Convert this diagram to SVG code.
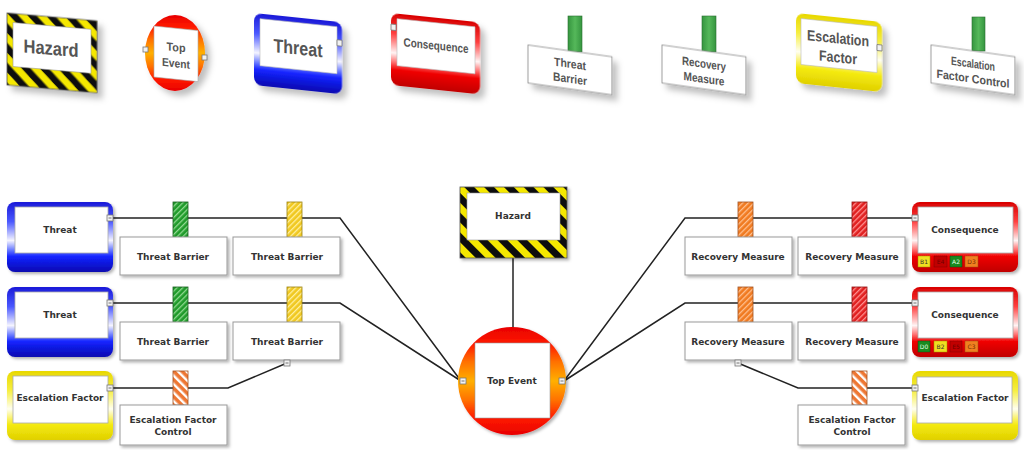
<svg xmlns="http://www.w3.org/2000/svg" width="1024" height="450" viewBox="0 0 1024 450">
<defs>
  <style>
    .lbl{font-family:"DejaVu Sans",Verdana,sans-serif;font-weight:bold;font-size:9px;fill:#333;text-anchor:middle}
    .lg{font-family:"Liberation Sans",Arial,sans-serif;font-weight:bold;fill:#555;text-anchor:middle}
    .bdg{font-family:"DejaVu Sans",sans-serif;font-size:6px;text-anchor:middle}
    .card{fill:#fff;stroke:#999;stroke-width:1}
    .inner{fill:#fff;stroke:#aaa;stroke-width:0.8}
    .conn{fill:none;stroke:#222;stroke-width:1.5}
    .sq{fill:#f2f2f2;stroke:#777;stroke-width:0.8}
    .sqm{stroke:#555;stroke-width:0.8}
  </style>
  <filter id="sh" x="-20%" y="-20%" width="150%" height="150%">
    <feDropShadow dx="2" dy="2" stdDeviation="1.5" flood-color="#000" flood-opacity="0.3"/>
  </filter>
  <filter id="sh2" x="-20%" y="-20%" width="160%" height="160%">
    <feDropShadow dx="5" dy="5" stdDeviation="3" flood-color="#000" flood-opacity="0.25"/>
  </filter>
  <pattern id="haz" width="14" height="14" patternUnits="userSpaceOnUse" patternTransform="rotate(-45)">
    <rect width="14" height="14" fill="#f5e800"/>
    <rect width="7" height="14" fill="#111"/>
  </pattern>
  <pattern id="hG" width="4" height="4" patternUnits="userSpaceOnUse" patternTransform="rotate(45)">
    <rect width="4" height="4" fill="#1f9a2a"/>
    <rect width="1.3" height="4" fill="#8fd890"/>
  </pattern>
  <pattern id="hY" width="4" height="4" patternUnits="userSpaceOnUse" patternTransform="rotate(45)">
    <rect width="4" height="4" fill="#f0c820"/>
    <rect width="1.3" height="4" fill="#fff0a0"/>
  </pattern>
  <pattern id="hO" width="4" height="4" patternUnits="userSpaceOnUse" patternTransform="rotate(45)">
    <rect width="4" height="4" fill="#f07a20"/>
    <rect width="1.3" height="4" fill="#ffc090"/>
  </pattern>
  <pattern id="hR" width="4" height="4" patternUnits="userSpaceOnUse" patternTransform="rotate(45)">
    <rect width="4" height="4" fill="#e02020"/>
    <rect width="1.3" height="4" fill="#ff9090"/>
  </pattern>
  <pattern id="hE" width="6" height="6" patternUnits="userSpaceOnUse" patternTransform="rotate(-45)">
    <rect width="6" height="6" fill="#ee7733"/>
    <rect width="2.4" height="6" fill="#fff"/>
  </pattern>
  <linearGradient id="lgGreen" x1="0" y1="0" x2="1" y2="0">
    <stop offset="0" stop-color="#35953f"/><stop offset="0.5" stop-color="#55b85a"/><stop offset="1" stop-color="#35953f"/>
  </linearGradient>
  <linearGradient id="gBlue" x1="0" y1="0" x2="0" y2="1">
    <stop offset="0" stop-color="#1a1ad8"/><stop offset="0.28" stop-color="#4a58ff"/><stop offset="0.55" stop-color="#f4f4ff"/><stop offset="0.68" stop-color="#7080ff"/><stop offset="0.78" stop-color="#1424ff"/><stop offset="1" stop-color="#0808b0"/>
  </linearGradient>
  <linearGradient id="gRed" x1="0" y1="0" x2="0" y2="1">
    <stop offset="0" stop-color="#d80000"/><stop offset="0.28" stop-color="#ff4040"/><stop offset="0.55" stop-color="#fff4f4"/><stop offset="0.68" stop-color="#ff7070"/><stop offset="0.78" stop-color="#f00000"/><stop offset="1" stop-color="#c00000"/>
  </linearGradient>
  <linearGradient id="gYel" x1="0" y1="0" x2="0" y2="1">
    <stop offset="0" stop-color="#e8d800"/><stop offset="0.28" stop-color="#f6ee40"/><stop offset="0.55" stop-color="#fffff0"/><stop offset="0.68" stop-color="#faf270"/><stop offset="0.78" stop-color="#f4ea10"/><stop offset="1" stop-color="#e0d000"/>
  </linearGradient>
  <linearGradient id="gTop" x1="0" y1="0" x2="0" y2="1">
    <stop offset="0" stop-color="#e80000"/><stop offset="0.16" stop-color="#ff1a00"/><stop offset="0.32" stop-color="#ff7000"/><stop offset="0.5" stop-color="#ffb000"/><stop offset="0.68" stop-color="#ff7000"/><stop offset="0.84" stop-color="#ff1a00"/><stop offset="1" stop-color="#e80000"/>
  </linearGradient>
</defs>
<rect width="1024" height="450" fill="#fff"/>

<!-- ===== Legend ===== -->
<g id="legend-hazard" transform="translate(7,13) skewY(5)">
  <rect width="90" height="72" fill="url(#haz)" stroke="#555" stroke-width="0.8" filter="url(#sh2)"/>
  <rect x="6" y="9" width="78" height="44" fill="#fff" stroke="#999" stroke-width="0.6"/>
  <text class="lg" x="44" y="38" font-size="19" textLength="55" lengthAdjust="spacingAndGlyphs">Hazard</text>
</g>
<g id="legend-top-event">
  <ellipse cx="175" cy="53" rx="30" ry="38" fill="url(#gTop)" filter="url(#sh2)"/>
  <g transform="translate(154,26) skewY(6)">
    <rect width="44" height="51" fill="#fff" stroke="#aaa" stroke-width="0.6"/>
    <text class="lg" x="22" y="23" font-size="11.5" textLength="19" lengthAdjust="spacingAndGlyphs">Top</text>
    <text class="lg" x="22" y="39" font-size="11.5" textLength="28" lengthAdjust="spacingAndGlyphs">Event</text>
  </g>
  <rect class="sq" x="143" y="47" width="5" height="5"/>
  <rect class="sq" x="202" y="55" width="5" height="5"/>
</g>
<g id="legend-threat" transform="translate(254,13) skewY(6)">
  <rect width="88" height="72" rx="8" fill="url(#gBlue)" filter="url(#sh2)"/>
  <rect x="6" y="5" width="77" height="47" fill="#fff" stroke="#bbb" stroke-width="0.6"/>
  <text class="lg" x="44" y="37" font-size="19" textLength="49" lengthAdjust="spacingAndGlyphs">Threat</text>
  <rect class="sq" x="83" y="18" width="5" height="6"/>
</g>
<g id="legend-consequence" transform="translate(391,13) skewY(6)">
  <rect width="89" height="72" rx="8" fill="url(#gRed)" filter="url(#sh2)"/>
  <rect x="6" y="5" width="78" height="47" fill="#fff" stroke="#bbb" stroke-width="0.6"/>
  <text class="lg" x="45" y="32" font-size="12" textLength="65" lengthAdjust="spacingAndGlyphs">Consequence</text>
  <rect class="sq" x="0" y="11" width="5" height="6"/>
</g>
<g id="legend-threat-barrier">
  <rect x="568" y="16" width="14" height="36" fill="url(#lgGreen)" stroke="#2a6e30" stroke-width="0.6"/>
  <g transform="translate(528,45) skewY(8)">
    <rect width="84" height="38" fill="#fff" stroke="#888" stroke-width="0.8" filter="url(#sh2)"/>
    <text class="lg" x="42" y="17" font-size="12" textLength="32" lengthAdjust="spacingAndGlyphs">Threat</text>
    <text class="lg" x="42" y="32" font-size="12" textLength="34" lengthAdjust="spacingAndGlyphs">Barrier</text>
  </g>
</g>
<g id="legend-recovery-measure">
  <rect x="702" y="16" width="14" height="36" fill="url(#lgGreen)" stroke="#2a6e30" stroke-width="0.6"/>
  <g transform="translate(662,45) skewY(8)">
    <rect width="84" height="38" fill="#fff" stroke="#888" stroke-width="0.8" filter="url(#sh2)"/>
    <text class="lg" x="42" y="17" font-size="12" textLength="44" lengthAdjust="spacingAndGlyphs">Recovery</text>
    <text class="lg" x="42" y="32" font-size="12" textLength="41" lengthAdjust="spacingAndGlyphs">Measure</text>
  </g>
</g>
<g id="legend-escalation-factor" transform="translate(796,13) skewY(6)">
  <rect width="86" height="70" rx="8" fill="url(#gYel)" filter="url(#sh2)"/>
  <rect x="5" y="5" width="76" height="46" fill="#fff" stroke="#bbb" stroke-width="0.6"/>
  <text class="lg" x="42" y="26" font-size="15" textLength="62" lengthAdjust="spacingAndGlyphs">Escalation</text>
  <text class="lg" x="42" y="45" font-size="15" textLength="38" lengthAdjust="spacingAndGlyphs">Factor</text>
  <rect class="sq" x="81" y="23" width="5" height="6"/>
</g>
<g id="legend-escalation-factor-control">
  <rect x="972" y="17" width="13" height="34" fill="url(#lgGreen)" stroke="#2a6e30" stroke-width="0.6"/>
  <g transform="translate(931,45) skewY(8)">
    <rect width="84" height="38" fill="#fff" stroke="#888" stroke-width="0.8" filter="url(#sh2)"/>
    <text class="lg" x="42" y="17" font-size="12" textLength="44" lengthAdjust="spacingAndGlyphs">Escalation</text>
    <text class="lg" x="42" y="32" font-size="12" textLength="73" lengthAdjust="spacingAndGlyphs">Factor Control</text>
  </g>
</g>

<!-- ===== Connectors ===== -->
<g id="connectors">
  <polyline class="conn" points="113,218 340,218 461,381"/>
  <polyline class="conn" points="113,303 340,303 461,381"/>
  <polyline class="conn" points="113,388 228,388 287,363"/>
  <line class="conn" x1="513" y1="258" x2="513" y2="328"/>
  <polyline class="conn" points="564,381 685,218 915,218"/>
  <polyline class="conn" points="564,381 685,303 915,303"/>
  <polyline class="conn" points="738,363 798,388 915,388"/>
</g>

<!-- ===== Left side ===== -->
<g id="threat-1">
  <rect x="7" y="202" width="106" height="70" rx="8" fill="url(#gBlue)" filter="url(#sh)"/>
  <rect class="inner" x="15" y="207" width="93" height="46"/>
  <text class="lbl" x="60" y="233">Threat</text>
  <rect class="sq" x="107" y="215" width="6" height="6"/><line class="sqm" x1="108.5" y1="218" x2="111.5" y2="218"/>
</g>
<g id="threat-barrier-1a">
  <rect x="173" y="202" width="15" height="36" fill="url(#hG)" stroke="#1a5e20" stroke-width="0.8"/>
  <rect class="card" x="120" y="237" width="107" height="38" filter="url(#sh)"/>
  <text class="lbl" x="173" y="260">Threat Barrier</text>
</g>
<g id="threat-barrier-1b">
  <rect x="287" y="202" width="15" height="36" fill="url(#hY)" stroke="#9a8010" stroke-width="0.8"/>
  <rect class="card" x="233" y="237" width="107" height="38" filter="url(#sh)"/>
  <text class="lbl" x="287" y="260">Threat Barrier</text>
</g>
<g id="threat-2">
  <rect x="7" y="287" width="106" height="70" rx="8" fill="url(#gBlue)" filter="url(#sh)"/>
  <rect class="inner" x="15" y="292" width="93" height="46"/>
  <text class="lbl" x="60" y="318">Threat</text>
  <rect class="sq" x="107" y="300" width="6" height="6"/><line class="sqm" x1="108.5" y1="303" x2="111.5" y2="303"/>
</g>
<g id="threat-barrier-2a">
  <rect x="173" y="287" width="15" height="36" fill="url(#hG)" stroke="#1a5e20" stroke-width="0.8"/>
  <rect class="card" x="120" y="322" width="107" height="38" filter="url(#sh)"/>
  <text class="lbl" x="173" y="345">Threat Barrier</text>
</g>
<g id="threat-barrier-2b">
  <rect x="287" y="287" width="15" height="36" fill="url(#hY)" stroke="#9a8010" stroke-width="0.8"/>
  <rect class="card" x="233" y="322" width="107" height="38" filter="url(#sh)"/>
  <text class="lbl" x="287" y="345">Threat Barrier</text>
  <rect class="sq" x="284" y="360" width="6" height="6"/><line class="sqm" x1="285.5" y1="363" x2="288.5" y2="363"/>
</g>
<g id="escalation-factor-left">
  <rect x="7" y="371" width="106" height="69" rx="8" fill="url(#gYel)" filter="url(#sh)"/>
  <rect class="inner" x="13" y="376" width="95" height="47"/>
  <text class="lbl" x="60" y="401">Escalation Factor</text>
  <rect class="sq" x="107" y="385" width="6" height="6"/><line class="sqm" x1="108.5" y1="388" x2="111.5" y2="388"/>
</g>
<g id="escalation-factor-control-left">
  <rect x="173" y="371" width="15" height="34" fill="url(#hE)" stroke="#a05020" stroke-width="0.8"/>
  <rect class="card" x="120" y="405" width="107" height="40" filter="url(#sh)"/>
  <text class="lbl" x="173" y="423">Escalation Factor</text>
  <text class="lbl" x="173" y="435">Control</text>
</g>

<!-- ===== Center ===== -->
<g id="hazard">
  <rect x="460" y="187" width="107" height="71" fill="url(#haz)" stroke="#555" stroke-width="0.8" filter="url(#sh)"/>
  <rect x="467" y="193" width="93" height="47" fill="#fff" stroke="#999" stroke-width="0.6"/>
  <text class="lbl" x="513" y="219">Hazard</text>
</g>
<g id="top-event">
  <circle cx="512" cy="381" r="54" fill="url(#gTop)" filter="url(#sh)"/>
  <rect x="475" y="343" width="75" height="75" fill="#fff" stroke="#999" stroke-width="0.6"/>
  <text class="lbl" x="512" y="384">Top Event</text>
  <rect class="sq" x="460" y="378" width="6" height="6"/><line class="sqm" x1="461.5" y1="381" x2="464.5" y2="381"/>
  <rect class="sq" x="559" y="378" width="6" height="6"/><line class="sqm" x1="560.5" y1="381" x2="563.5" y2="381"/>
</g>

<!-- ===== Right side ===== -->
<g id="recovery-measure-1a">
  <rect x="738" y="202" width="15" height="36" fill="url(#hO)" stroke="#a05020" stroke-width="0.8"/>
  <rect class="card" x="685" y="237" width="107" height="38" filter="url(#sh)"/>
  <text class="lbl" x="738" y="260">Recovery Measure</text>
</g>
<g id="recovery-measure-1b">
  <rect x="852" y="202" width="15" height="36" fill="url(#hR)" stroke="#901010" stroke-width="0.8"/>
  <rect class="card" x="798" y="237" width="107" height="38" filter="url(#sh)"/>
  <text class="lbl" x="852" y="260">Recovery Measure</text>
</g>
<g id="consequence-1">
  <rect x="912" y="202" width="106" height="70" rx="8" fill="url(#gRed)" filter="url(#sh)"/>
  <rect class="inner" x="918" y="207" width="95" height="46"/>
  <text class="lbl" x="965" y="233">Consequence</text>
  <rect class="sq" x="912" y="215" width="6" height="6"/><line class="sqm" x1="913.5" y1="218" x2="916.5" y2="218"/>
  <rect x="918" y="256" width="12" height="11" fill="#f0e020" stroke="#a09000" stroke-width="0.5"/><text class="bdg" x="924" y="264" fill="#333">B1</text>
  <rect x="934" y="256" width="13" height="11" fill="#c00000" stroke="#800000" stroke-width="0.5"/><text class="bdg" x="940.5" y="264" fill="#700000">E4</text>
  <rect x="950" y="256" width="12" height="11" fill="#1a8a20" stroke="#0a5010" stroke-width="0.5"/><text class="bdg" x="956" y="264" fill="#e0ffe0">A2</text>
  <rect x="965" y="256" width="13" height="11" fill="#f08020" stroke="#a05010" stroke-width="0.5"/><text class="bdg" x="971.5" y="264" fill="#7a3000">D3</text>
</g>
<g id="recovery-measure-2a">
  <rect x="738" y="287" width="15" height="36" fill="url(#hO)" stroke="#a05020" stroke-width="0.8"/>
  <rect class="card" x="685" y="322" width="107" height="38" filter="url(#sh)"/>
  <text class="lbl" x="738" y="345">Recovery Measure</text>
  <rect class="sq" x="735" y="360" width="6" height="6"/><line class="sqm" x1="736.5" y1="363" x2="739.5" y2="363"/>
</g>
<g id="recovery-measure-2b">
  <rect x="852" y="287" width="15" height="36" fill="url(#hR)" stroke="#901010" stroke-width="0.8"/>
  <rect class="card" x="798" y="322" width="107" height="38" filter="url(#sh)"/>
  <text class="lbl" x="852" y="345">Recovery Measure</text>
</g>
<g id="consequence-2">
  <rect x="912" y="287" width="106" height="70" rx="8" fill="url(#gRed)" filter="url(#sh)"/>
  <rect class="inner" x="918" y="292" width="95" height="46"/>
  <text class="lbl" x="965" y="318">Consequence</text>
  <rect class="sq" x="912" y="300" width="6" height="6"/><line class="sqm" x1="913.5" y1="303" x2="916.5" y2="303"/>
  <rect x="918" y="341" width="12" height="11" fill="#1a8a20" stroke="#0a5010" stroke-width="0.5"/><text class="bdg" x="924" y="349" fill="#e0ffe0">D0</text>
  <rect x="934" y="341" width="13" height="11" fill="#f0e020" stroke="#a09000" stroke-width="0.5"/><text class="bdg" x="940.5" y="349" fill="#333">B2</text>
  <rect x="950" y="341" width="12" height="11" fill="#c00000" stroke="#800000" stroke-width="0.5"/><text class="bdg" x="956" y="349" fill="#700000">E5</text>
  <rect x="965" y="341" width="13" height="11" fill="#f08020" stroke="#a05010" stroke-width="0.5"/><text class="bdg" x="971.5" y="349" fill="#7a3000">C3</text>
</g>
<g id="escalation-factor-control-right">
  <rect x="852" y="371" width="15" height="34" fill="url(#hE)" stroke="#a05020" stroke-width="0.8"/>
  <rect class="card" x="798" y="405" width="107" height="40" filter="url(#sh)"/>
  <text class="lbl" x="852" y="423">Escalation Factor</text>
  <text class="lbl" x="852" y="435">Control</text>
</g>
<g id="escalation-factor-right">
  <rect x="912" y="371" width="106" height="69" rx="8" fill="url(#gYel)" filter="url(#sh)"/>
  <rect class="inner" x="917" y="377" width="95" height="46"/>
  <text class="lbl" x="965" y="401">Escalation Factor</text>
  <rect class="sq" x="912" y="385" width="6" height="6"/><line class="sqm" x1="913.5" y1="388" x2="916.5" y2="388"/>
</g>
</svg>
